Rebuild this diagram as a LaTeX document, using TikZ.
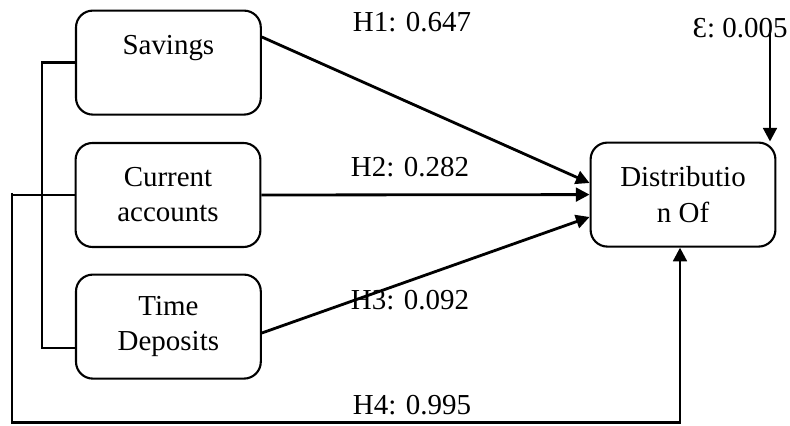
\documentclass[tikz,border=0pt]{standalone}
\usepackage{fontspec}
\setmainfont{Liberation Serif}
\usetikzlibrary{arrows.meta}

\tikzset{
    varbox/.style={draw, line width=1.5pt, rounded corners=0.42cm, align=center,
        minimum width=4.62cm, minimum height=2.6cm, inner sep=2pt},
    path/.style={line width=2pt, -{Triangle[length=0.34cm,width=0.34cm]}},
    link/.style={line width=1.8pt},
    coef/.style={inner sep=1pt}
}

\begin{document}
\begin{tikzpicture}[font=\fontsize{20.6pt}{24.9pt}\selectfont]
        \useasboundingbox (0,0) rectangle (19.75,10.625);

        % Independent variables
        \node[varbox] (sav) at (4.21,9.06) {Savings\\\mbox{}};
        \node[varbox] (curr) at (4.2,5.75) {Current\\accounts};
        \node[varbox] (time) at (4.21,2.46) {Time\\Deposits};

        % Dependent variable
        \node[varbox] (dist) at (17.075,5.76) {Distributio\\n Of};

        % Bracket joining the three deposit types
        \coordinate (brtop) at (1.05,9.06);
        \coordinate (brbot) at (1.05,1.92);
        \draw[link] (sav.west) -- (brtop) -- (brbot) -- (time.west |- brbot);

        % Paths H1 to H3
        \draw[path] ([yshift=0.64cm]sav.east) -- ([yshift=0.29cm]dist.west);
        \draw[path] (curr.east) -- (dist.west);
        \draw[path] ([yshift=-0.16cm]time.east) -- ([yshift=-0.56cm]dist.west);

        % Path H4, joint effect
        \coordinate (outtop) at (0.3,5.8);
        \coordinate (outbot) at (0.3,0.06);
        \coordinate (outend) at (17.0,0.06);
        \draw[link] (curr.west) -- (outtop |- curr.west);
        \draw[path] (outtop) -- (outbot) -- (outend) -- (outend |- dist.south);

        % Error term
        \node[coef] (eps) at (18.5,9.93) {Ɛ: 0.005};
        \coordinate (epstop) at (19.25,9.88);
        \draw[path] (epstop) -- (epstop |- dist.north);

        % Coefficients
        \node[coef] (h1) at (10.3,10.07) {H1: 0.647};
        \node[coef] (h2) at (10.25,6.45) {H2: 0.282};
        \node[coef] (h3) at (10.25,3.12) {H3: 0.092};
        \node[coef] (h4) at (10.3,0.5) {H4: 0.995};
\end{tikzpicture}
\end{document}
